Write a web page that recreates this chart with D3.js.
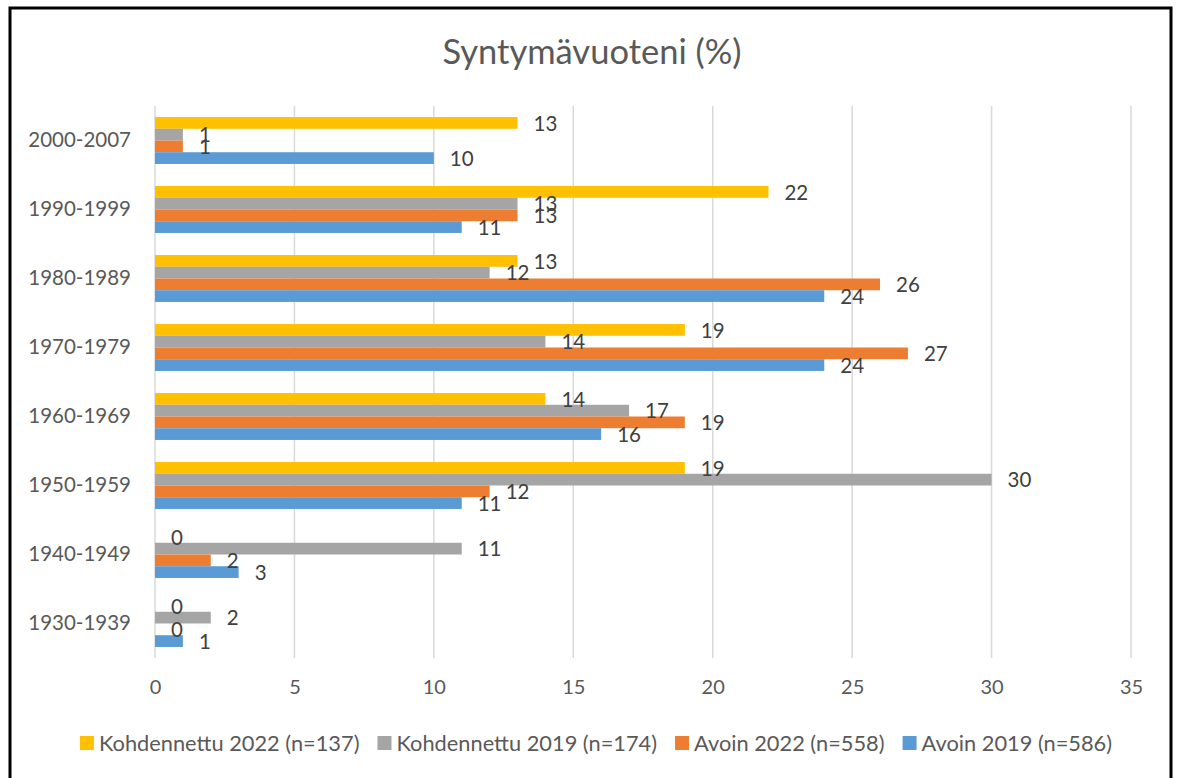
<!DOCTYPE html>
<meta charset="utf-8">
<style>
  body { margin: 0; background: #fff; }
  text { font-family: Lato, "Open Sans", sans-serif; }
</style>
<body>
<script src="https://cdn.jsdelivr.net/npm/d3@7"></script>
<script>
// categories top to bottom
var categories = ["2000-2007", "1990-1999", "1980-1989", "1970-1979", "1960-1969", "1950-1959", "1940-1949", "1930-1939"];
var seriesNames = ["Kohdennettu 2022 (n=137)", "Kohdennettu 2019 (n=174)", "Avoin 2022 (n=558)", "Avoin 2019 (n=586)"];
var seriesColors = ["#FFC000", "#A5A5A5", "#ED7D31", "#5B9BD5"];
var kohdennettu2022 = [13, 22, 13, 19, 14, 19, 0, 0];
var kohdennettu2019 = [1, 13, 12, 14, 17, 30, 11, 2];
var avoin2022 = [1, 13, 26, 27, 19, 12, 2, 0];
var avoin2019 = [10, 11, 24, 24, 16, 11, 3, 1];
var xTicks = [0, 5, 10, 15, 20, 25, 30, 35];

var seriesValues = [kohdennettu2022, kohdennettu2019, avoin2022, avoin2019];

var W = 1179, H = 778;
var svg = d3.select("body").append("svg")
    .attr("width", W)
    .attr("height", H);

// chart border
svg.append("rect")
    .attr("x", 10).attr("y", 8)
    .attr("width", 1161).attr("height", 790)
    .attr("fill", "#fff")
    .attr("stroke", "#000")
    .attr("stroke-width", 3);

// title
svg.append("text")
    .attr("x", 592).attr("y", 64)
    .attr("text-anchor", "middle")
    .style("font-size", "34.5px")
    .style("fill", "#595959")
    .text("Syntymävuoteni (%)");

var plotTop = 106, plotBottom = 658;

var x = d3.scaleLinear()
    .domain([0, 35])
    .range([155, 1131]);

var y = d3.scaleBand()
    .domain(categories)
    .range([plotTop, plotBottom])
    .paddingInner(0.32)
    .paddingOuter(0.16);

var ySub = d3.scaleBand()
    .domain(d3.range(seriesNames.length))
    .range([0, y.bandwidth()]);

// gridlines
svg.append("g").selectAll("line")
    .data(xTicks)
  .enter().append("line")
    .attr("x1", function(d) { return x(d); })
    .attr("x2", function(d) { return x(d); })
    .attr("y1", plotTop)
    .attr("y2", plotBottom)
    .attr("stroke", "#D9D9D9")
    .attr("stroke-width", 1.5);

// x axis labels
var xAxis = svg.append("g")
    .attr("transform", "translate(0," + plotBottom + ")")
    .call(d3.axisBottom(x).tickValues(xTicks).tickSize(0).tickPadding(22));
xAxis.select(".domain").remove();
xAxis.selectAll("text")
    .style("font-family", "Lato, sans-serif")
    .style("font-size", "20px")
    .style("fill", "#595959");

// y axis labels
var yAxis = svg.append("g")
    .attr("transform", "translate(155,0)")
    .call(d3.axisLeft(y).tickSize(0).tickPadding(24));
yAxis.select(".domain").remove();
yAxis.selectAll("text")
    .style("font-family", "Lato, sans-serif")
    .style("font-size", "20.5px")
    .style("fill", "#595959");

// bars
var rows = [];
categories.forEach(function(c, i) {
  seriesValues.forEach(function(vals, s) {
    rows.push({cat: c, s: s, v: vals[i]});
  });
});

svg.append("g").selectAll("rect")
    .data(rows)
  .enter().append("rect")
    .attr("x", x(0))
    .attr("y", function(d) { return y(d.cat) + ySub(d.s); })
    .attr("width", function(d) { return x(d.v) - x(0); })
    .attr("height", ySub.bandwidth())
    .attr("fill", function(d) { return seriesColors[d.s]; });

// data labels
svg.append("g").selectAll("text")
    .data(rows)
  .enter().append("text")
    .attr("x", function(d) { return x(d.v) + 16; })
    .attr("y", function(d) { return y(d.cat) + ySub(d.s) + ySub.bandwidth() / 2; })
    .attr("dy", "0.38em")
    .style("font-size", "20.5px")
    .style("fill", "#404040")
    .text(function(d) { return d.v; });

// legend
var legend = svg.append("g");
var items = legend.selectAll("g")
    .data(seriesNames)
  .enter().append("g");
items.append("rect")
    .attr("y", 736)
    .attr("width", 14).attr("height", 14)
    .attr("fill", function(d, i) { return seriesColors[i]; });
items.append("text")
    .attr("x", 19)
    .attr("y", 751)
    .style("font-size", "21.8px")
    .style("fill", "#595959")
    .text(function(d) { return d; });

var offsets = [], pos = 0;
items.each(function(d, i) {
  offsets.push(pos);
  pos += 19 + this.querySelector("text").getComputedTextLength() + 18;
});
var totalW = pos - 18;
var startX = 596 - totalW / 2;
items.attr("transform", function(d, i) { return "translate(" + (startX + offsets[i]) + ",0)"; });
</script>
</body>
